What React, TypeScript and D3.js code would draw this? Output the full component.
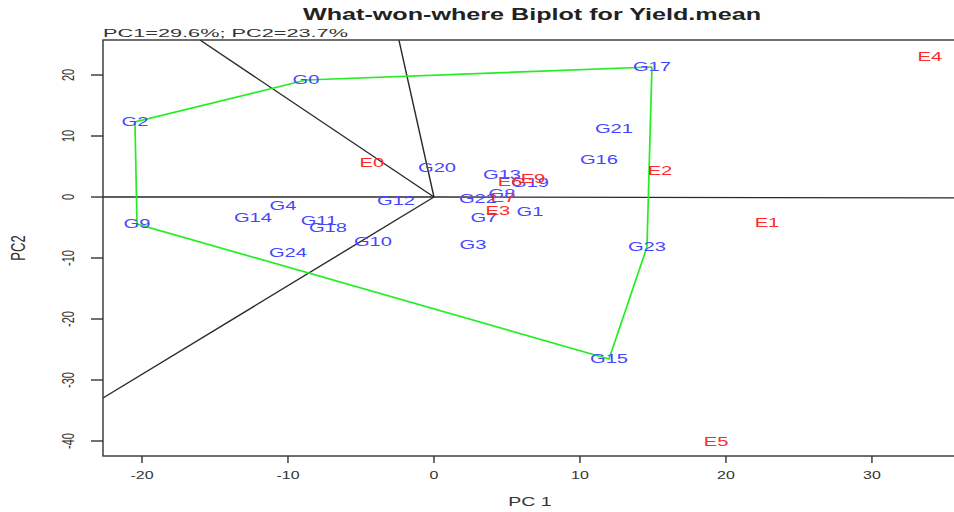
import React from "react";
import * as d3 from "d3";

const GEN_NAMES = ["G0","G1","G2","G3","G4","G7","G8","G9","G10","G11","G12","G13","G14","G15","G16","G17","G18","G19","G20","G21","G22","G23","G24"];
const GEN_PC1 = [-8.77, 6.58, -20.48, 2.67, -10.34, 3.42, 4.66, -20.34, -4.18, -7.88, -2.6, 4.66, -12.4, 11.99, 11.3, 14.93, -7.26, 6.58, 0.21, 12.33, 3.01, 14.59, -10.0];
const GEN_PC2 = [19.18, -2.46, 12.3, -7.87, -1.48, -3.44, 0.49, -4.43, -7.38, -3.93, -0.66, 3.61, -3.44, -26.56, 6.07, 21.31, -5.08, 2.3, 4.75, 11.15, -0.33, -8.2, -9.18];

const ENV_NAMES = ["E0","E1","E2","E3","E4","E5","E6","E7","E9"];
const ENV_PC1 = [-4.25, 22.81, 15.48, 4.38, 33.97, 19.32, 5.21, 4.73, 6.78];
const ENV_PC2 = [5.57, -4.26, 4.26, -2.3, 22.95, -40.16, 2.46, -0.16, 2.95];

const HULL = ["G17","G0","G2","G9","G15","G23"];

const RAY_PC1 = [-16.03, -2.4, -22.67, -22.67, 36.1];
const RAY_PC2 = [25.74, 25.74, -32.95, 0, -0.15];

const X_TICKS = [-20, -10, 0, 10, 20, 30];
const Y_TICKS = [20, 10, 0, -10, -20, -30, -40];

const TITLE = "What-won-where Biplot for Yield.mean";
const SUBTITLE = "PC1=29.6%; PC2=23.7%";

export default function App() {
  const W = 954, H = 512;
  const L = 103, R = 961, T = 40, B = 456;
  const x = d3.scaleLinear().domain([-22.67, 36.1]).range([L, R]);
  const y = d3.scaleLinear().domain([-42.46, 25.74]).range([B, T]);
  const SX = 1.55;
  const font = "'Liberation Sans', Arial, sans-serif";
  const axisCol = "#333";

  const hullPts: [number, number][] = HULL.map((g) => {
    const i = GEN_NAMES.indexOf(g);
    return [x(GEN_PC1[i]), y(GEN_PC2[i])];
  });
  const hullPath = d3.line()(hullPts.concat([hullPts[0]])) || "";

  return (
    <svg width={W} height={H} style={{ position: "absolute", left: 0, top: 0, background: "#fff" }} fontFamily={font}>
      <defs>
        <clipPath id="plotclip">
          <rect x={L} y={T} width={R - L} height={B - T} />
        </clipPath>
      </defs>
      <rect x={0} y={0} width={W} height={H} fill="#fff" />
      <text x={532} y={20} textAnchor="middle" fontWeight="bold" fontSize={16} fill="#222"
        textLength={458} lengthAdjust="spacingAndGlyphs">{TITLE}</text>
      <text x={L} y={37} fontSize={11.5} fill="#333" textLength={245} lengthAdjust="spacingAndGlyphs">{SUBTITLE}</text>

      <g clipPath="url(#plotclip)">
        {RAY_PC1.map((v, i) => (
          <line key={"r" + i} x1={x(0)} y1={y(0)} x2={x(v)} y2={y(RAY_PC2[i])} stroke="#2a2a2a" strokeWidth={1.4} />
        ))}
        <path d={hullPath} fill="none" stroke="#22ee22" strokeWidth={1.7} />
      </g>

      {GEN_NAMES.map((g, i) => (
        <text key={g} transform={`translate(${x(GEN_PC1[i])},${y(GEN_PC2[i])}) scale(${SX},1)`}
          textAnchor="middle" dominantBaseline="central" fontSize={13} fill="#4646ff">{g}</text>
      ))}
      {ENV_NAMES.map((e, i) => (
        <text key={e} transform={`translate(${x(ENV_PC1[i])},${y(ENV_PC2[i])}) scale(${SX},1)`}
          textAnchor="middle" dominantBaseline="central" fontSize={13} fill="#ff2a2a">{e}</text>
      ))}

      {/* frame */}
      <rect x={L} y={T} width={R - L} height={B - T} fill="none" stroke={axisCol} strokeWidth={1.4} />

      {/* x axis */}
      {X_TICKS.map((t) => (
        <g key={"xt" + t}>
          <line x1={x(t)} x2={x(t)} y1={B} y2={B + 7} stroke={axisCol} strokeWidth={1.4} />
          <text transform={`translate(${x(t)},${479}) scale(1.45,1)`} textAnchor="middle" fontSize={11} fill="#333">{t}</text>
        </g>
      ))}
      <text transform={`translate(530,506) scale(1.5,1)`} textAnchor="middle" fontSize={13} fill="#333">PC 1</text>

      {/* y axis */}
      {Y_TICKS.map((t) => (
        <g key={"yt" + t}>
          <line x1={L} x2={L - 12} y1={y(t)} y2={y(t)} stroke={axisCol} strokeWidth={1.4} />
          <text transform={`translate(${74},${y(t)}) scale(1.45,1) rotate(-90)`} textAnchor="middle" fontSize={11} fill="#333">{t}</text>
        </g>
      ))}
      <text transform={`translate(25,248) scale(1.5,1) rotate(-90)`} textAnchor="middle" fontSize={13} fill="#333">PC2</text>
    </svg>
  );
}
